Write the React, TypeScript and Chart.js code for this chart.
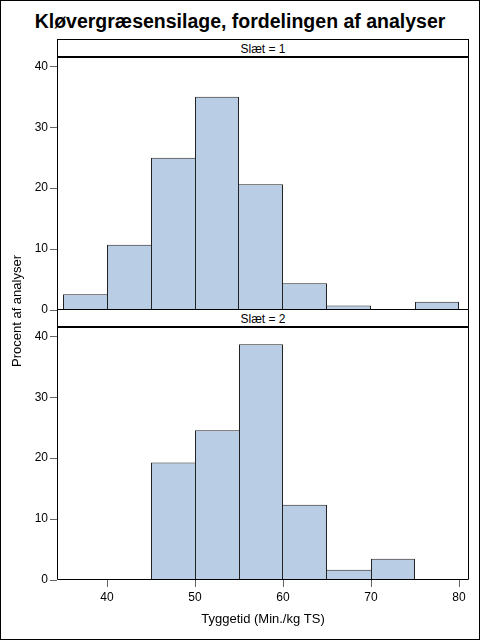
import React, { useEffect, useRef } from "react";
import { Chart, registerables } from "chart.js";

Chart.register(...registerables);

// ---- data ----
const binMids = [37.5, 42.5, 47.5, 52.5, 57.5, 62.5, 67.5, 72.5, 77.5];
const slaet1 = [2.6, 10.7, 25.0, 35.0, 20.65, 4.4, 0.75, 0, 1.35];
const slaet2 = [0, 0, 19.3, 24.6, 38.7, 12.35, 1.7, 3.5, 0];
const xTicks = [40, 50, 60, 70, 80];
const yTicks = [0, 10, 20, 30, 40];
const panelTitles = ["Slæt = 1", "Slæt = 2"];
const mainTitle = "Kløvergræsensilage, fordelingen af analyser";
const xTitle = "Tyggetid (Min./kg TS)";
const yTitle = "Procent af analyser";

const X_MIN = 34.318;
const X_MAX = 81.136;
const Y_MAX = 41.7;
const FONT = "'Liberation Sans', Arial, sans-serif";
const FILL = "#B9CDE5";
const EDGE = "#222222";

const framePlugin = {
  id: "panelFrame",
  afterDraw(chart: any) {
    const { ctx, chartArea: a } = chart;
    ctx.save();
    ctx.strokeStyle = "#000";
    ctx.lineWidth = 1;
    const l = Math.round(a.left) + 0.5;
    const r = Math.round(a.right) - 0.5;
    const t = Math.round(a.top);
    const b = Math.round(a.bottom) - 0.5;
    ctx.beginPath();
    ctx.moveTo(l, t);
    ctx.lineTo(l, b);
    ctx.lineTo(r, b);
    ctx.lineTo(r, t);
    ctx.stroke();
    ctx.lineWidth = 2;
    ctx.beginPath();
    ctx.moveTo(l - 0.5, t + 1);
    ctx.lineTo(r + 0.5, t + 1);
    ctx.stroke();
    ctx.restore();
  },
};

function sideWidths(values: number[]) {
  return (ctx: any) => {
    const i = ctx.dataIndex;
    if (i === undefined) return 1;
    const v = values[i];
    if (!v) return 0;
    const prev = i > 0 ? values[i - 1] : -1;
    const next = i < values.length - 1 ? values[i + 1] : -1;
    return { top: 1, bottom: 0, left: prev <= v ? 1 : 0, right: next < v ? 1 : 0 };
  };
}

function makeConfig(values: number[], showX: boolean): any {
  const gridOpts = {
    display: true,
    offset: false,
    drawOnChartArea: false,
    drawTicks: true,
    tickLength: 7,
    tickColor: "#666",
    tickWidth: 1,
  };
  return {
    type: "bar",
    data: {
      datasets: [
        {
          data: binMids.map((x, i) => ({ x, y: values[i] })),
          backgroundColor: FILL,
          borderColor: EDGE,
          borderWidth: sideWidths(values),
          borderSkipped: false,
          inflateAmount: 0,
          barPercentage: 1,
          categoryPercentage: 1,
        },
      ],
    },
    options: {
      responsive: false,
      animation: false,
      devicePixelRatio: 1,
      layout: { padding: { left: 0, right: 11, top: 12, bottom: showX ? 0 : 12 } },
      plugins: {
        legend: { display: false },
        tooltip: { enabled: false },
        title: { display: false },
      },
      scales: {
        x: {
          type: "linear",
          min: X_MIN,
          max: X_MAX,
          offset: false,
          display: showX,
          afterBuildTicks: (s: any) => {
            s.ticks = xTicks.map((v) => ({ value: v }));
          },
          afterFit: (s: any) => {
            s.height = showX ? 59 : 0;
          },
          grid: gridOpts,
          border: { display: false },
          ticks: {
            color: "#000",
            font: { family: FONT, size: 12 },
            padding: 3,
            maxRotation: 0,
            autoSkip: false,
          },
          title: {
            display: true,
            text: xTitle,
            color: "#000",
            font: { family: FONT, size: 13 },
            padding: { top: 0, bottom: 12 },
          },
        },
        y: {
          type: "linear",
          min: 0,
          max: Y_MAX,
          afterBuildTicks: (s: any) => {
            s.ticks = yTicks.map((v) => ({ value: v }));
          },
          afterFit: (s: any) => {
            s.width = 57;
          },
          grid: gridOpts,
          border: { display: false },
          ticks: {
            color: "#000",
            font: { family: FONT, size: 12 },
            padding: 2,
          },
        },
      },
    },
    plugins: [framePlugin],
  };
}

const headerStyle = (top: number): React.CSSProperties => ({
  position: "absolute",
  left: 57,
  top,
  width: 412,
  height: 18,
  boxSizing: "border-box",
  borderTop: "1px solid #000",
  borderLeft: "1px solid #000",
  borderRight: "1px solid #000",
  paddingTop: 1,
  textAlign: "center",
  font: `12px ${FONT}`,
  lineHeight: "16px",
  color: "#000",
});

export default function App() {
  const ref1 = useRef<HTMLCanvasElement>(null);
  const ref2 = useRef<HTMLCanvasElement>(null);

  useEffect(() => {
    const c1 = new Chart(ref1.current as HTMLCanvasElement, makeConfig(slaet1, false));
    const c2 = new Chart(ref2.current as HTMLCanvasElement, makeConfig(slaet2, true));
    return () => {
      c1.destroy();
      c2.destroy();
    };
  }, []);

  return (
    <div
      style={{
        position: "absolute",
        left: 0,
        top: 0,
        width: 480,
        height: 640,
        background: "#fff",
        overflow: "hidden",
      }}
    >
      <div
        style={{
          position: "absolute",
          left: 0,
          top: 11.4,
          width: 480,
          textAlign: "center",
          font: `bold 19.5px ${FONT}`,
          lineHeight: "20px",
          color: "#000",
          whiteSpace: "nowrap",
        }}
      >
        {mainTitle}
      </div>
      <div style={headerStyle(39)}>{panelTitles[0]}</div>
      <div style={headerStyle(309)}>{panelTitles[1]}</div>
      <canvas
        ref={ref1}
        width={480}
        height={278}
        style={{ position: "absolute", left: 0, top: 44, width: 480, height: 278 }}
      />
      <canvas
        ref={ref2}
        width={480}
        height={325}
        style={{ position: "absolute", left: 0, top: 314, width: 480, height: 325 }}
      />
      <div
        style={{
          position: "absolute",
          left: 16,
          top: 311,
          transform: "translate(-50%, -50%) rotate(-90deg)",
          font: `13px ${FONT}`,
          lineHeight: "15px",
          color: "#000",
          whiteSpace: "nowrap",
        }}
      >
        {yTitle}
      </div>
      <div
        style={{
          position: "absolute",
          left: 0,
          top: 0,
          width: 480,
          height: 640,
          boxSizing: "border-box",
          border: "1px solid #000",
          pointerEvents: "none",
        }}
      />
    </div>
  );
}
